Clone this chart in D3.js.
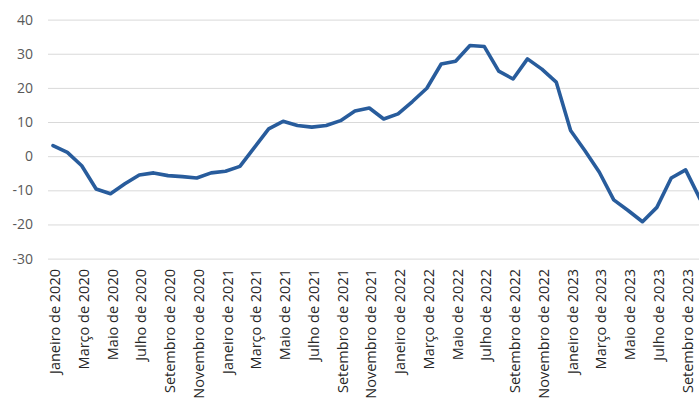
<!DOCTYPE html>
<html>
<head>
<meta charset="utf-8">
<script src="https://cdn.jsdelivr.net/npm/d3@7"></script>
<style>
  html, body { margin: 0; padding: 0; background: #fff; }
  svg { display: block; }
</style>
</head>
<body>
<svg id="chart" width="699" height="401"></svg>
<script>
// Monthly series, Janeiro 2020 .. Outubro 2023
const monthNames = ["Janeiro","Fevereiro","Março","Abril","Maio","Junho","Julho","Agosto","Setembro","Outubro","Novembro","Dezembro"];
const startYear = 2020;
const values = [
  3.1, 1.1, -2.8, -9.6, -11.0, -8.1, -5.5, -4.9, -5.7, -6.0, -6.4, -4.9,
  -4.4, -3.0, 2.5, 8.0, 10.2, 9.0, 8.5, 9.0, 10.4, 13.2, 14.1, 10.9,
  12.4, 16.0, 19.9, 27.0, 27.8, 32.4, 32.1, 24.9, 22.6, 28.5, 25.5, 21.7,
  7.5, 1.6, -4.7, -12.8, -15.9, -19.2, -15.0, -6.4, -4.0, -12.5
];
const yTicks = [-30, -20, -10, 0, 10, 20, 30, 40];
const categories = values.map((v, i) =>
  monthNames[i % 12] + " de " + (startYear + Math.floor(i / 12)));
const labelEvery = 2;

const svg = d3.select("#chart");
const font = "'Open Sans', Lato, sans-serif";

const x = d3.scaleLinear().domain([0, values.length - 1]).range([53, 700]);
const y = d3.scaleLinear().domain([-30, 40]).range([258.6, 19.6]);

// gridlines
const yAxis = d3.axisLeft(y).tickValues(yTicks).tickSize(-(699 - 48)).tickPadding(15).tickFormat(d => String(d));
const gy = svg.append("g").attr("transform", "translate(48,0)").call(yAxis);
gy.select(".domain").remove();
gy.selectAll(".tick line").attr("stroke", "#d9d9d9").attr("stroke-width", 1);
gy.selectAll(".tick text")
  .attr("fill", "#595959")
  .style("font-family", font)
  .style("font-size", "14px");

// x labels
const xAxis = d3.axisBottom(x)
  .tickValues(d3.range(0, values.length, labelEvery))
  .tickSize(0)
  .tickFormat(i => categories[i]);
const gx = svg.append("g").attr("transform", "translate(1.5,269)").call(xAxis);
gx.select(".domain").remove();
gx.selectAll(".tick text")
  .attr("fill", "#262626")
  .style("font-family", font)
  .style("font-size", "14.5px")
  .attr("text-anchor", "end")
  .attr("transform", "rotate(-90)")
  .attr("x", 0)
  .attr("y", 0)
  .attr("dx", 0)
  .attr("dy", "0.35em");

// line
const line = d3.line().x((d, i) => x(i)).y(d => y(d));
svg.append("path")
  .datum(values)
  .attr("fill", "none")
  .attr("stroke", "#285c9c")
  .attr("stroke-width", 3.6)
  .attr("stroke-linejoin", "round")
  .attr("stroke-linecap", "round")
  .attr("d", line);
</script>
</body>
</html>
